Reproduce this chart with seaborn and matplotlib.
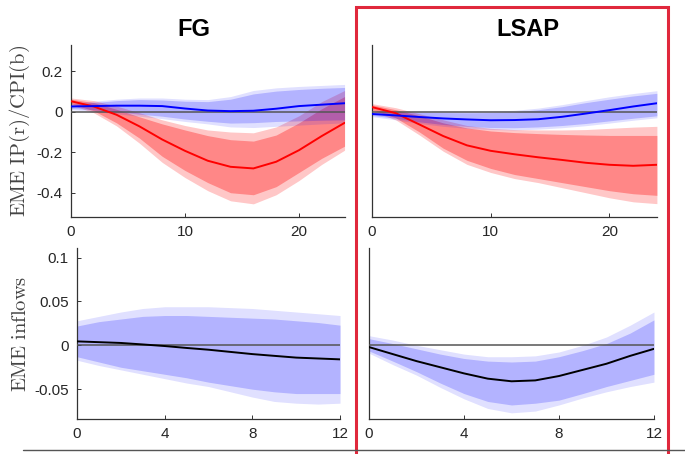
import matplotlib
matplotlib.use("Agg")
import matplotlib.pyplot as plt
import seaborn as sns
from matplotlib.patches import Rectangle
from matplotlib.lines import Line2D

# horizons
H_TOP = [0, 2, 4, 6, 8, 10, 12, 14, 16, 18, 20, 22, 24]
H_BOT = [0, 1, 2, 3, 4, 5, 6, 7, 8, 9, 10, 11, 12]

# FG, IP (red)
fg_ip_med = [0.052, 0.026, -0.015, -0.072, -0.137, -0.193, -0.242, -0.272, -0.280, -0.247, -0.190, -0.120, -0.055]
fg_ip_in_hi = [0.062, 0.045, 0.012, -0.025, -0.060, -0.090, -0.118, -0.138, -0.145, -0.115, -0.055, 0.015, 0.075]
fg_ip_in_lo = [0.040, 0.005, -0.055, -0.130, -0.220, -0.290, -0.350, -0.400, -0.410, -0.370, -0.300, -0.230, -0.170]
fg_ip_out_hi = [0.068, 0.055, 0.028, -0.005, -0.040, -0.068, -0.090, -0.100, -0.104, -0.075, -0.020, 0.050, 0.105]
fg_ip_out_lo = [0.035, -0.005, -0.070, -0.155, -0.250, -0.325, -0.390, -0.440, -0.455, -0.410, -0.340, -0.260, -0.190]

# FG, CPI (blue)
fg_cpi_med = [0.026, 0.028, 0.030, 0.030, 0.028, 0.016, 0.006, 0.003, 0.005, 0.015, 0.028, 0.035, 0.042]
fg_cpi_in_hi = [0.036, 0.045, 0.055, 0.060, 0.058, 0.052, 0.050, 0.062, 0.088, 0.102, 0.110, 0.116, 0.120]
fg_cpi_in_lo = [0.016, 0.010, 0.000, -0.012, -0.022, -0.036, -0.047, -0.056, -0.054, -0.048, -0.045, -0.042, -0.040]
fg_cpi_out_hi = [0.042, 0.052, 0.062, 0.068, 0.068, 0.062, 0.060, 0.075, 0.105, 0.118, 0.125, 0.130, 0.135]
fg_cpi_out_lo = [0.010, 0.002, -0.010, -0.022, -0.034, -0.048, -0.060, -0.075, -0.078, -0.072, -0.066, -0.060, -0.055]

# LSAP, IP (red)
lsap_ip_med = [0.023, -0.007, -0.063, -0.120, -0.166, -0.193, -0.210, -0.225, -0.238, -0.252, -0.262, -0.267, -0.262]
lsap_ip_in_hi = [0.034, 0.010, -0.020, -0.055, -0.080, -0.095, -0.103, -0.108, -0.112, -0.115, -0.117, -0.117, -0.117]
lsap_ip_in_lo = [0.010, -0.030, -0.100, -0.180, -0.240, -0.280, -0.310, -0.330, -0.350, -0.370, -0.390, -0.405, -0.413]
lsap_ip_out_hi = [0.040, 0.020, -0.010, -0.040, -0.068, -0.082, -0.088, -0.090, -0.090, -0.088, -0.082, -0.076, -0.072]
lsap_ip_out_lo = [0.003, -0.040, -0.115, -0.195, -0.260, -0.300, -0.330, -0.350, -0.375, -0.400, -0.425, -0.445, -0.454]

# LSAP, CPI (blue)
lsap_cpi_med = [-0.011, -0.018, -0.026, -0.033, -0.038, -0.042, -0.041, -0.037, -0.025, -0.009, 0.008, 0.026, 0.042]
lsap_cpi_in_hi = [-0.004, -0.003, -0.003, -0.004, -0.005, -0.004, 0.000, 0.010, 0.025, 0.045, 0.062, 0.078, 0.091]
lsap_cpi_in_lo = [-0.018, -0.032, -0.050, -0.063, -0.072, -0.078, -0.079, -0.075, -0.068, -0.058, -0.045, -0.032, -0.020]
lsap_cpi_out_hi = [0.001, 0.003, 0.004, 0.003, 0.002, 0.003, 0.007, 0.018, 0.035, 0.055, 0.074, 0.090, 0.104]
lsap_cpi_out_lo = [-0.024, -0.040, -0.058, -0.072, -0.082, -0.088, -0.090, -0.086, -0.079, -0.069, -0.056, -0.042, -0.030]

# FG, inflows
fg_inf_med = [0.0045, 0.0036, 0.0027, 0.001, -0.0008, -0.003, -0.005, -0.0075, -0.010, -0.012, -0.014, -0.015, -0.016]
fg_inf_in_hi = [0.022, 0.027, 0.030, 0.033, 0.034, 0.034, 0.033, 0.032, 0.031, 0.030, 0.028, 0.026, 0.023]
fg_inf_in_lo = [-0.013, -0.019, -0.025, -0.029, -0.033, -0.037, -0.042, -0.046, -0.050, -0.053, -0.055, -0.055, -0.055]
fg_inf_out_hi = [0.028, 0.033, 0.038, 0.042, 0.044, 0.044, 0.044, 0.043, 0.042, 0.040, 0.038, 0.036, 0.034]
fg_inf_out_lo = [-0.017, -0.023, -0.028, -0.033, -0.038, -0.043, -0.047, -0.053, -0.059, -0.064, -0.066, -0.067, -0.066]

# LSAP, inflows
lsap_inf_med = [-0.002, -0.010, -0.018, -0.025, -0.032, -0.038, -0.041, -0.040, -0.035, -0.028, -0.021, -0.012, -0.004]
lsap_inf_in_hi = [0.0076, 0.002, -0.004, -0.010, -0.015, -0.018, -0.019, -0.018, -0.013, -0.006, 0.002, 0.014, 0.029]
lsap_inf_in_lo = [-0.0064, -0.018, -0.030, -0.043, -0.055, -0.064, -0.068, -0.066, -0.0625, -0.055, -0.047, -0.040, -0.033]
lsap_inf_out_hi = [0.011, 0.006, 0.000, -0.005, -0.010, -0.013, -0.013, -0.012, -0.0076, 0.000, 0.0095, 0.023, 0.038]
lsap_inf_out_lo = [-0.009, -0.022, -0.034, -0.048, -0.061, -0.072, -0.077, -0.075, -0.068, -0.060, -0.053, -0.047, -0.042]

TOP_YTICKS = [0.2, 0, -0.2, -0.4]
TOP_YLABELS = ["0.2", "0", "-0.2", "-0.4"]
BOT_YTICKS = [0.1, 0.05, 0, -0.05]
BOT_YLABELS = ["0.1", "0.05", "0", "-0.05"]
TOP_XTICKS = [0, 10, 20]
BOT_XTICKS = [0, 4, 8, 12]

RED = "#ff0000"
BLUE = "#0000ff"


sns.set_style("ticks", {"xtick.direction": "in", "ytick.direction": "in"})
plt.rcParams["font.family"] = ["Liberation Sans", "DejaVu Sans"]
plt.rcParams["mathtext.fontset"] = "cm"
plt.rcParams["axes.unicode_minus"] = False


def band(ax, x, med, in_hi, in_lo, out_hi, out_lo, color, a_out, a_in, line_color):
    ax.fill_between(x, out_lo, out_hi, color=color, alpha=a_out, lw=0, zorder=1)
    ax.fill_between(x, in_lo, in_hi, color=color, alpha=a_in, lw=0, zorder=1)
    sns.lineplot(x=x, y=med, ax=ax, color=line_color, lw=1.4, zorder=4)


def style_axes(ax, xlim, xticks, ylim, yticks=None, ylabels=None):
    ax.set_xlim(*xlim)
    ax.set_ylim(*ylim)
    ax.set_xticks(xticks)
    ax.set_xticklabels([str(t) for t in xticks])
    if yticks is None:
        ax.set_yticks([])
    else:
        ax.set_yticks(yticks)
        ax.set_yticklabels(ylabels)
    ax.axhline(0, color="#555555", lw=1.1, zorder=3)
    sns.despine(ax=ax)
    for s in ("left", "bottom"):
        ax.spines[s].set_color("#333333")
        ax.spines[s].set_linewidth(0.9)
    ax.tick_params(labelsize=11, colors="#333333", labelcolor="#262626",
                   length=3, width=0.7, pad=6)


fig = plt.figure(figsize=(6.85, 4.54), dpi=100)
ax_tl = fig.add_axes([0.1036, 0.522, 0.3994, 0.379])
ax_tr = fig.add_axes([0.543, 0.522, 0.416, 0.379])
ax_bl = fig.add_axes([0.1124, 0.0771, 0.384, 0.3767])
ax_br = fig.add_axes([0.5387, 0.0771, 0.416, 0.3767])

band(ax_tl, H_TOP, fg_ip_med, fg_ip_in_hi, fg_ip_in_lo, fg_ip_out_hi, fg_ip_out_lo, RED, 0.22, 0.32, RED)
band(ax_tl, H_TOP, fg_cpi_med, fg_cpi_in_hi, fg_cpi_in_lo, fg_cpi_out_hi, fg_cpi_out_lo, BLUE, 0.12, 0.2, BLUE)
band(ax_tr, H_TOP, lsap_ip_med, lsap_ip_in_hi, lsap_ip_in_lo, lsap_ip_out_hi, lsap_ip_out_lo, RED, 0.22, 0.32, RED)
band(ax_tr, H_TOP, lsap_cpi_med, lsap_cpi_in_hi, lsap_cpi_in_lo, lsap_cpi_out_hi, lsap_cpi_out_lo, BLUE, 0.12, 0.2, BLUE)
band(ax_bl, H_BOT, fg_inf_med, fg_inf_in_hi, fg_inf_in_lo, fg_inf_out_hi, fg_inf_out_lo, BLUE, 0.12, 0.2, "black")
band(ax_br, H_BOT, lsap_inf_med, lsap_inf_in_hi, lsap_inf_in_lo, lsap_inf_out_hi, lsap_inf_out_lo, BLUE, 0.12, 0.2, "black")

style_axes(ax_tl, (0, 24), TOP_XTICKS, (-0.52, 0.33), TOP_YTICKS, TOP_YLABELS)
style_axes(ax_tr, (0, 24), TOP_XTICKS, (-0.52, 0.33))
style_axes(ax_bl, (0, 12), BOT_XTICKS, (-0.084, 0.111), BOT_YTICKS, BOT_YLABELS)
style_axes(ax_br, (0, 12), BOT_XTICKS, (-0.084, 0.111))

# column titles (sit slightly off the axes centres in the original)
fig.text(0.2832, 0.9207, "FG", fontsize=17, fontweight="bold", color="black",
         ha="center", va="baseline")
fig.text(0.7708, 0.9207, "LSAP", fontsize=17, fontweight="bold", color="black",
         ha="center", va="baseline")
ax_tl.set_ylabel(r"$\mathrm{EME\ IP(r)/CPI(b)}$", fontsize=14.8, color="#444444", labelpad=3)
ax_bl.set_ylabel(r"$\mathrm{EME\ inflows}$", fontsize=14.8, color="#444444", labelpad=3)

# red frame around the LSAP column and the rule along the bottom
fig.patches.append(Rectangle((0.52, -0.02), 0.455, 1.005, transform=fig.transFigure,
                             fill=False, edgecolor="#e0283c", lw=2.2))
fig.lines.append(Line2D([0.034, 1.0], [0.0088, 0.0088], transform=fig.transFigure,
                        color="#555555", lw=1.0))

fig.savefig("out.png", dpi=100)
